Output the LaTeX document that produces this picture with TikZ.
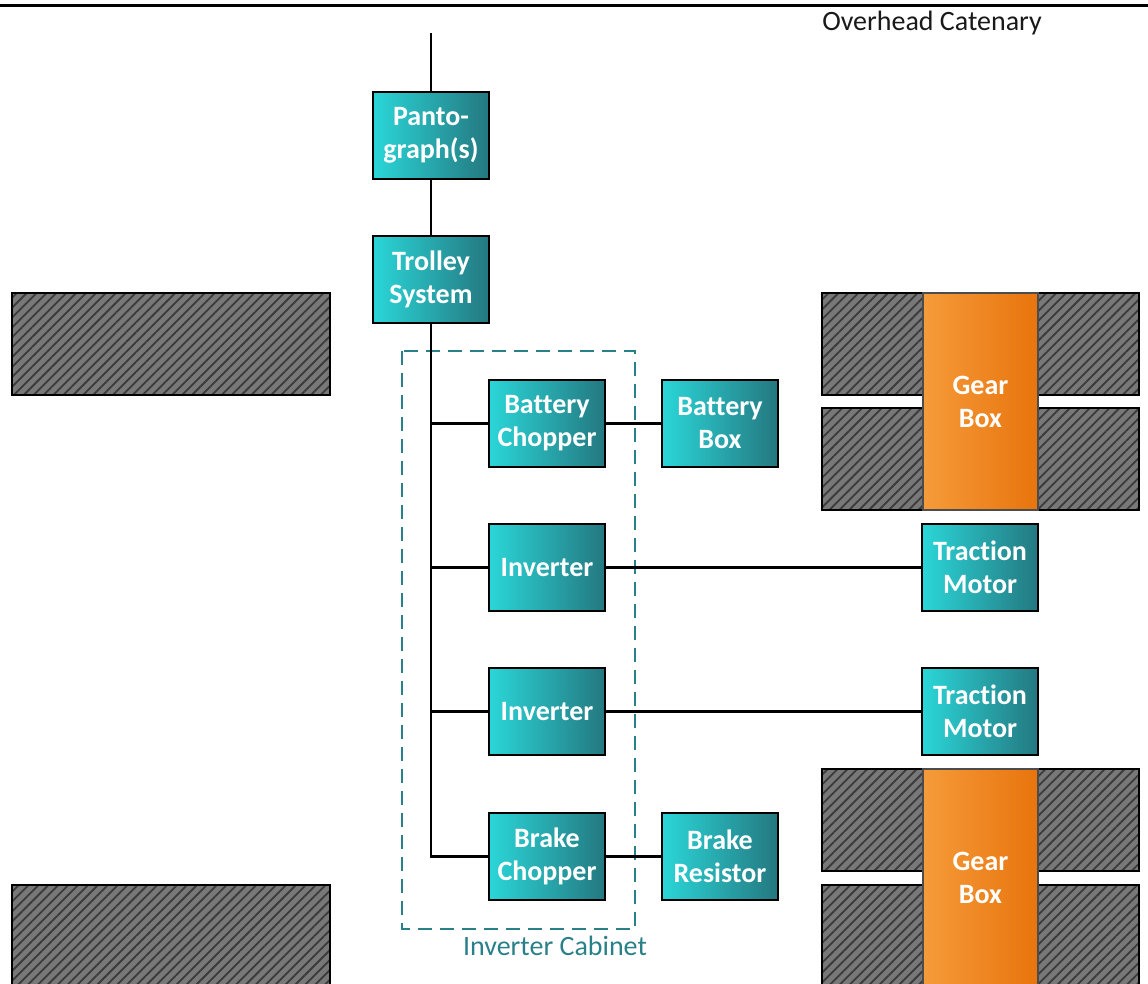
\documentclass[tikz,border=0pt]{standalone}
\usepackage{fontspec}
\setmainfont{Carlito}[Ligatures=NoCommon]
\usetikzlibrary{patterns.meta}
\definecolor{cyanL}{HTML}{2AD6D8}
\definecolor{cyanR}{HTML}{247880}
\definecolor{orgL}{HTML}{F59B3A}
\definecolor{orgR}{HTML}{E8740C}
\definecolor{hatchbg}{HTML}{787878}
\definecolor{hatchln}{HTML}{3A3A3A}
\definecolor{cabteal}{HTML}{2A8088}
\tikzset{
  unitbox/.style={draw=black, line width=1.3pt, left color=cyanL, right color=cyanR,
    minimum width=116pt, minimum height=87pt, inner sep=0pt, align=center,
    text=white, font=\fontsize{28}{33}\selectfont\bfseries},
  hatched/.style={draw=black, line width=1.2pt, preaction={fill=hatchbg},
    pattern={Lines[angle=45,distance=7pt,line width=1.8pt]}, pattern color=hatchln},
  gearbox/.style={draw=black!70, line width=1.2pt, left color=orgL, right color=orgR},
  geartext/.style={text=white, align=center, font=\fontsize{28}{33}\selectfont\bfseries},
  wire/.style={draw=black, line width=2.4pt},
  cabinet/.style={draw=cabteal, line width=2pt, dash pattern=on 14pt off 8pt},
  plain/.style={font=\fontsize{28}{33}\selectfont}
}
\begin{document}
\begin{tikzpicture}[x=1pt,y=-1pt]
\useasboundingbox (0,0) rectangle (1148,983);
\clip (0,0) rectangle (1148,983);
% overhead catenary
\coordinate (catL) at (0,5.5);
\coordinate (catR) at (1148,5.5);
\draw[line width=3pt] (catL) -- (catR);
\node[plain, text=black!90] (catlabel) at (932,23) {Overhead Catenary};
% hatched structures
\draw[hatched] (12,293) rectangle (330,395);
\draw[hatched] (12,885) rectangle (330,1000);
\draw[hatched] (822,293) rectangle (1139,395);
\draw[hatched] (822,408) rectangle (1139,510);
\draw[hatched] (822,769) rectangle (1139,871);
\draw[hatched] (822,885) rectangle (1139,1000);
% gear boxes
\draw[gearbox] (923,293) rectangle (1038,510);
\node[geartext] (gb1) at (980.5,401.5) {Gear\\Box};
\draw[gearbox] (923,769) rectangle (1038,1000);
\node[geartext] (gb2) at (980.5,878) {Gear\\Box};
% cabinet
\draw[cabinet] (402,351) rectangle (635,929);
\node[plain, text=cabteal] (cablabel) at (555,946) {Inverter Cabinet};
% boxes
\node[unitbox] (panto) at (431,135.5) {Panto-\\graph(s)};
\node[unitbox] (trolley) at (431,279.5) {Trolley\\System};
\node[unitbox] (bc) at (547,423.5) {Battery\\Chopper};
\node[unitbox] (bb) at (720,423.5) {Battery\\Box};
\node[unitbox] (inv1) at (547,567.5) {Inverter};
\node[unitbox] (tm1) at (980,567.5) {Traction\\Motor};
\node[unitbox] (inv2) at (547,711.5) {Inverter};
\node[unitbox] (tm2) at (980,711.5) {Traction\\Motor};
\node[unitbox] (brc) at (547,856.5) {Brake\\Chopper};
\node[unitbox] (brr) at (720,856.5) {Brake\\Resistor};
% wiring
\coordinate (feed) at (431,33);
\coordinate (j1) at (trolley.south |- bc.west);
\coordinate (j2) at (trolley.south |- inv1.west);
\coordinate (j3) at (trolley.south |- inv2.west);
\draw[wire] (feed) -- (panto.north);
\draw[wire] (panto.south) -- (trolley.north);
\draw[wire] (trolley.south) |- (brc.west);
\draw[wire] (j1) -- (bc.west);
\draw[wire] (j2) -- (inv1.west);
\draw[wire] (j3) -- (inv2.west);
\draw[wire] (bc.east) -- (bb.west);
\draw[wire] (inv1.east) -- (tm1.west);
\draw[wire] (inv2.east) -- (tm2.west);
\draw[wire] (brc.east) -- (brr.west);
\end{tikzpicture}
\end{document}
